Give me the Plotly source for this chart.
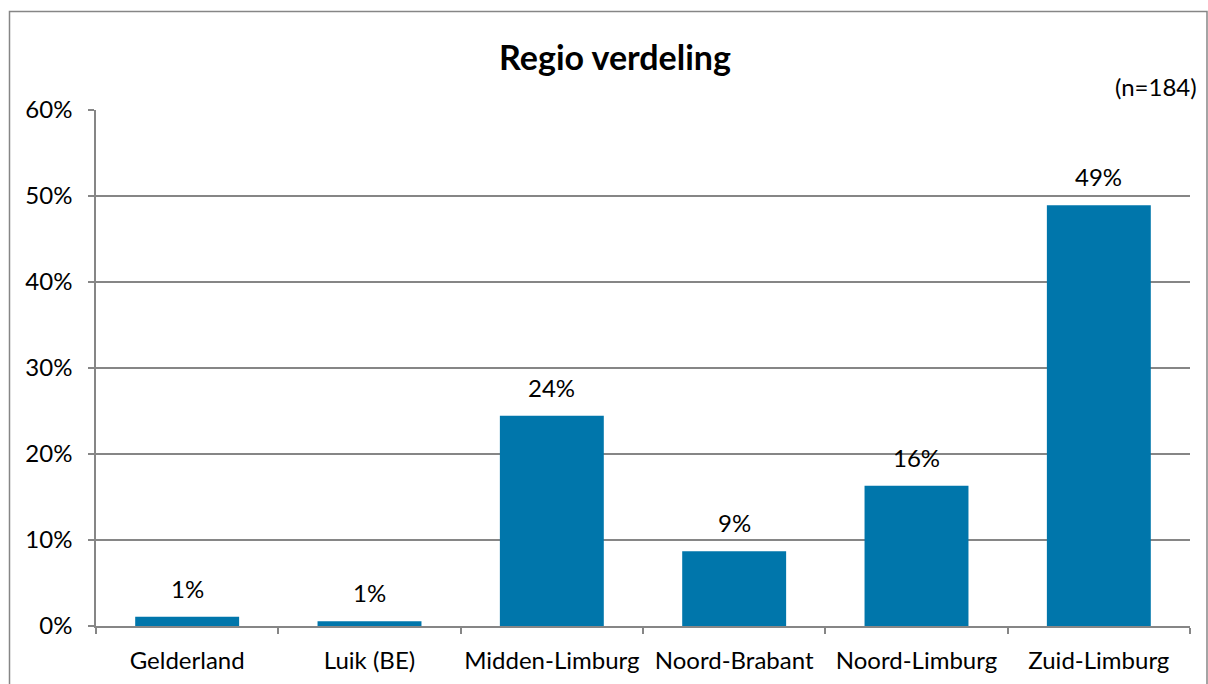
import plotly.graph_objects as go

categories = ["Gelderland", "Luik (BE)", "Midden-Limburg", "Noord-Brabant", "Noord-Limburg", "Zuid-Limburg"]
counts = [2, 1, 45, 16, 30, 90]
n_total = 184
values = [c / n_total for c in counts]
labels = [f"{round(v*100):.0f}%" for v in values]
y_ticks = [0, 0.1, 0.2, 0.3, 0.4, 0.5, 0.6]
y_ticklabels = ["0%", "10%", "20%", "30%", "40%", "50%", "60%"]

W, H = 1208, 684
L, R, T, B = 96, 18, 110, 58
pw, ph = W - L - R, H - T - B

def px_x(p):
    return (p - L) / pw

def px_y(p):
    return (H - B - p) / ph

FONT = "Lato"
FS = 24

fig = go.Figure(go.Bar(
    x=categories, y=values,
    marker=dict(color="#0076AB", line=dict(width=0)),
    cliponaxis=False, hoverinfo="x+y",
))

for c, v, t in zip(categories, values, labels):
    fig.add_annotation(x=c, y=v, text=t, xref="x", yref="y",
                       yanchor="bottom", yshift=12, showarrow=False,
                       font=dict(family=FONT, size=FS, color="#000000"))

fig.update_layout(
    width=W, height=H,
    margin=dict(l=L, r=R, t=T, b=B, autoexpand=False),
    paper_bgcolor="white", plot_bgcolor="white",
    bargap=0.43,
    showlegend=False,
    title=dict(text="<b>Regio verdeling</b>", x=615 / W, xanchor="center",
               y=1 - 58 / H, yanchor="middle",
               font=dict(family=FONT, size=34, color="#000000")),
    font=dict(family=FONT, color="#000000"),
)

fig.update_xaxes(
    type="category", tickson="boundaries", ticks="outside", ticklen=6,
    tickcolor="#868686", tickwidth=1.5,
    showline=True, linecolor="#868686", linewidth=1.5,
    showgrid=False, tickfont=dict(family=FONT, size=FS, color="#000000"),
    ticklabelstandoff=12, tickangle=0, automargin=False,
)
fig.update_yaxes(
    range=[0, 0.6], tickvals=y_ticks, ticktext=y_ticklabels,
    ticks="outside", ticklen=6, tickcolor="#868686", tickwidth=1.5,
    showline=True, linecolor="#868686", linewidth=1.5,
    showgrid=True, gridcolor="#868686", gridwidth=1.5,
    zeroline=False, automargin=False,
    tickfont=dict(family=FONT, size=FS, color="#000000"),
    ticklabelstandoff=11,
)

fig.add_annotation(text="(n=184)", xref="paper", yref="paper",
                   x=px_x(1199), y=px_y(87), xanchor="right", yanchor="middle",
                   showarrow=False, font=dict(family=FONT, size=FS, color="#000000"))

fig.add_shape(type="rect", xref="paper", yref="paper",
              x0=px_x(9.5), x1=px_x(1207), y0=px_y(700), y1=px_y(11.5),
              line=dict(color="#868686", width=1.5), fillcolor="rgba(0,0,0,0)", layer="above")

fig.write_html("out.html", config={"displayModeBar": False})

with open("out.html", "r", encoding="utf-8") as f:
    html = f.read()
html = html.replace("<body>", '<body style="margin:0;padding:0;overflow:hidden">', 1)
with open("out.html", "w", encoding="utf-8") as f:
    f.write(html)
